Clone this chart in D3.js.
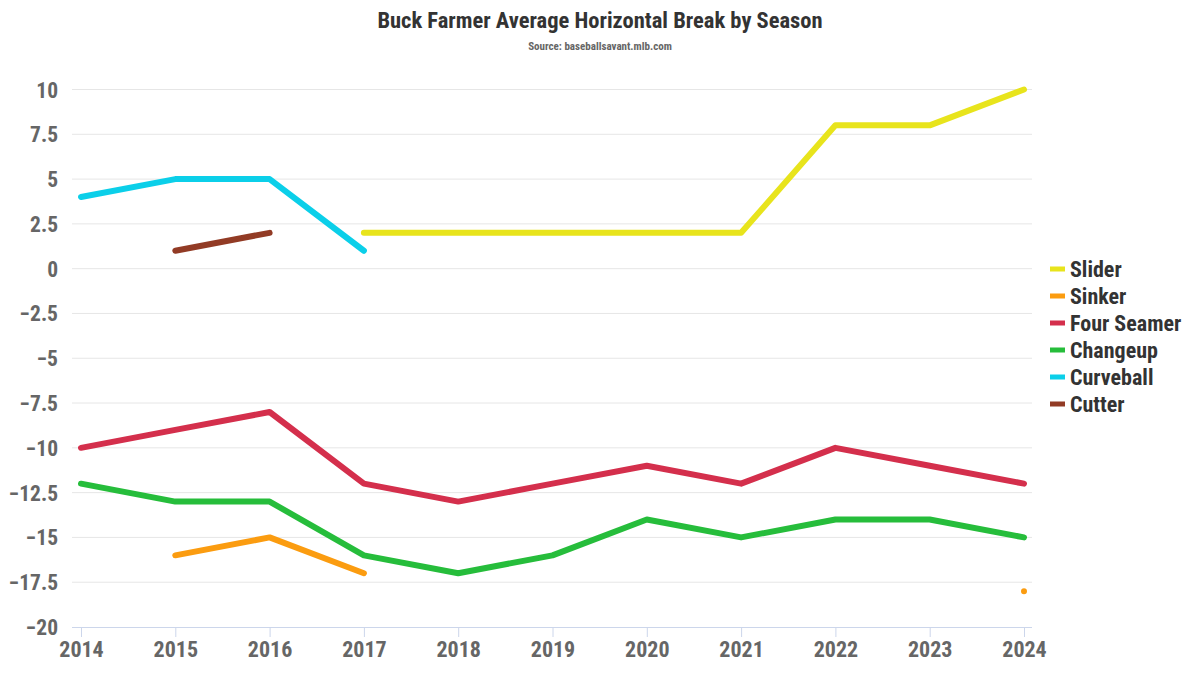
<!DOCTYPE html>
<html lang="en">
<head>
<meta charset="UTF-8">
<title>Buck Farmer Average Horizontal Break by Season</title>
<script src="https://d3js.org/d3.v7.min.js"></script>
<style>
  body { margin: 0; background: #fff; }
  text { font-family: "Roboto Condensed", "Liberation Sans Narrow", "DejaVu Sans Condensed", Roboto, sans-serif; font-weight: 700; }
</style>
</head>
<body>
<div id="chart"></div>
<script>
const seasons = [2014, 2015, 2016, 2017, 2018, 2019, 2020, 2021, 2022, 2023, 2024];
const yTicks = [10, 7.5, 5, 2.5, 0, -2.5, -5, -7.5, -10, -12.5, -15, -17.5, -20];

// null = pitch not thrown that season
const slider     = [null, null, null, 2, 2, 2, 2, 2, 8, 8, 10];
const sinker     = [null, -16, -15, -17, null, null, null, null, null, null, -18];
const fourSeamer = [-10, -9, -8, -12, -13, -12, -11, -12, -10, -11, -12];
const changeup   = [-12, -13, -13, -16, -17, -16, -14, -15, -14, -14, -15];
const curveball  = [4, 5, 5, 1, null, null, null, null, null, null, null];
const cutter     = [null, 1, 2, null, null, null, null, null, null, null, null];

const series = [
  { name: "Slider", values: slider, color: "#e8e41c" },
  { name: "Sinker", values: sinker, color: "#fb9c10" },
  { name: "Four Seamer", values: fourSeamer, color: "#d42f4c" },
  { name: "Changeup", values: changeup, color: "#26bd3b" },
  { name: "Curveball", values: curveball, color: "#0bcfe9" },
  { name: "Cutter", values: cutter, color: "#923b25" }
];

const width = 1200, height = 675;
const plot = { left: 72, right: 1032, top: 89.5, bottom: 627 };

const svg = d3.select("#chart").append("svg")
  .attr("width", width)
  .attr("height", height)
  .attr("viewBox", [0, 0, width, height]);

const x = d3.scaleLinear().domain([2014, 2024]).range([81, 1024]);
const y = d3.scaleLinear().domain([-20, 10]).range([plot.bottom, plot.top]);

// title
svg.append("text")
  .attr("x", 600).attr("y", 28)
  .attr("text-anchor", "middle")
  .attr("fill", "#333")
  .style("font-size", "22.5px")
  .text("Buck Farmer Average Horizontal Break by Season");

svg.append("text")
  .attr("x", 600).attr("y", 50)
  .attr("text-anchor", "middle")
  .attr("fill", "#666")
  .style("font-size", "11px")
  .text("Source: baseballsavant.mlb.com");

// gridlines
svg.append("g")
  .selectAll("line")
  .data(yTicks.filter(d => d !== -20))
  .join("line")
  .attr("x1", plot.left).attr("x2", plot.right)
  .attr("y1", d => y(d)).attr("y2", d => y(d))
  .attr("stroke", "#e6e6e6");

// y axis
const yAxis = svg.append("g")
  .attr("transform", `translate(${plot.left - 14},0)`)
  .call(d3.axisLeft(y).tickValues(yTicks).tickSize(0).tickPadding(0).tickFormat(d3.format("")));
yAxis.select(".domain").remove();
yAxis.selectAll("text")
  .attr("fill", "#666")
  .attr("dy", "0.35em")
  .style("font-size", "21.5px");

// x axis
const xAxis = svg.append("g")
  .attr("transform", `translate(0,${plot.bottom})`)
  .call(d3.axisBottom(x).tickValues(seasons).tickSize(10).tickPadding(4).tickFormat(d3.format("d")));
xAxis.select(".domain")
  .attr("d", `M${plot.left},0.5H${plot.right}`)
  .attr("stroke", "#ccd6eb");
xAxis.selectAll(".tick line").attr("stroke", "#ccd6eb");
xAxis.selectAll("text")
  .attr("fill", "#666")
  .style("font-size", "22px");

// lines
const line = d3.line()
  .defined(d => d.v !== null)
  .x(d => x(d.year))
  .y(d => y(d.v));

const lines = svg.append("g");
series.forEach(s => {
  const pts = seasons.map((year, i) => ({ year, v: s.values[i] }));
  lines.append("path")
    .datum(pts)
    .attr("fill", "none")
    .attr("stroke", s.color)
    .attr("stroke-width", 6)
    .attr("stroke-linejoin", "round")
    .attr("stroke-linecap", "round")
    .attr("d", line);
  // isolated points (no neighbour) drawn as tiny dots
  pts.forEach((p, i) => {
    if (p.v === null) return;
    const prev = i > 0 ? pts[i - 1].v : null;
    const next = i < pts.length - 1 ? pts[i + 1].v : null;
    if (prev === null && next === null) {
      lines.append("circle")
        .attr("cx", x(p.year)).attr("cy", y(p.v))
        .attr("r", 1)
        .attr("fill", s.color);
    }
  });
});

// legend
const legend = svg.append("g").attr("transform", "translate(1050,269)");
const item = legend.selectAll("g")
  .data(series)
  .join("g")
  .attr("transform", (d, i) => `translate(0,${i * 27})`);
item.append("rect")
  .attr("x", 0).attr("y", -2.5)
  .attr("width", 15).attr("height", 5)
  .attr("fill", d => d.color);
item.append("text")
  .attr("x", 20).attr("dy", "0.35em")
  .attr("fill", "#333")
  .style("font-size", "22px")
  .text(d => d.name);
</script>
</body>
</html>
